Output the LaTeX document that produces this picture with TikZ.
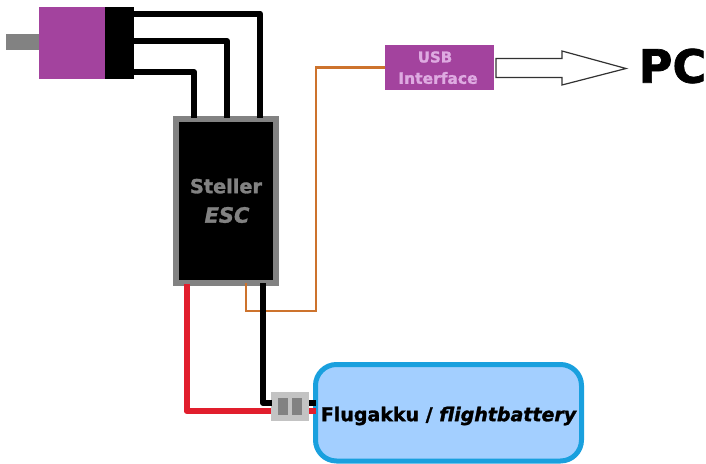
\documentclass[tikz,border=0pt]{standalone}
\usepackage{fontspec}
\setmainfont{DejaVu Sans}[BoldFeatures={FakeBold=1.5},BoldItalicFeatures={FakeBold=1.5}]
\begin{document}
\begin{tikzpicture}[x=1pt,y=-1pt,
  boxnode/.style={anchor=north west,inner sep=0pt,outer sep=0pt},
  wire/.style={line width=6pt,line join=round,black},
  redwire/.style={line width=6pt,line join=round,color={rgb,255:red,225;green,30;blue,45}},
  orangewire/.style={line width=2.5pt,line join=miter,color={rgb,255:red,205;green,115;blue,45}},
  lbl/.style={inner sep=0pt,font=\bfseries}]
\definecolor{purp}{RGB}{163,67,158}
\definecolor{grayc}{RGB}{130,130,130}
\definecolor{lightp}{RGB}{222,170,225}
\definecolor{batf}{RGB}{163,207,255}
\definecolor{batb}{RGB}{25,160,222}
\definecolor{congray}{RGB}{195,195,195}
\useasboundingbox (0,0) rectangle (706,463);
% wires go first so that the boxes sit over their ends
\node[boxnode,fill=grayc,minimum width=36pt,minimum height=16pt] (shaft) at (6,34) {};
\node[boxnode,fill=purp,minimum width=67pt,minimum height=72pt] (motor) at (39,7) {};
\node[boxnode,fill=black,minimum width=29pt,minimum height=72pt] (cap) at (105,7) {};
\node[boxnode,fill=black,draw=grayc,line width=6pt,minimum width=100pt,minimum height=164pt,outer sep=0pt] (esc) at (176,119) {};
\node[boxnode,fill=purp,minimum width=109pt,minimum height=45pt] (usb) at (385,45) {};
\node[boxnode,fill=batf,draw=batb,line width=5pt,rounded corners=21pt,minimum width=266pt,minimum height=96.5pt] (bat) at (315.5,364.5) {};
\node[boxnode,fill=congray,minimum width=38pt,minimum height=29pt] (con) at (271,392) {};
\coordinate (w1a) at (134,13.5); \coordinate (w1b) at (260,118);
\coordinate (w2a) at (134,41);   \coordinate (w2b) at (227,118);
\coordinate (w3a) at (134,72);   \coordinate (w3b) at (194,118);
\draw[wire,line width=6pt] (w1a) -| (w1b);
\draw[wire] (w2a) -| (w2b);
\draw[wire] (w3a) -| (w3b);
\coordinate (or0) at (246,283); \coordinate (or1) at (316,311);
\draw[orangewire] (or0) |- (or1) |- (usb.west);
\coordinate (rd0) at (186.5,284); \coordinate (rd1) at (271,411);
\draw[redwire] (rd0) |- (rd1);
\coordinate (bk0) at (263,283); \coordinate (bk1) at (272,403);
\draw[wire] (bk0) |- (bk1);
\coordinate (s1a) at (309,403); \coordinate (s1b) at (316,403);
\coordinate (s2a) at (309,411); \coordinate (s2b) at (316,411);
\draw[wire] (s1a) -- (s1b);
\draw[redwire] (s2a) -- (s2b);
\node[boxnode,fill=grayc,minimum width=10pt,minimum height=17pt] (pin1) at (278,398) {};
\node[boxnode,fill=grayc,minimum width=10pt,minimum height=17pt] (pin2) at (292,398) {};
\node[lbl,text=grayc,font=\bfseries\fontsize{19.3}{21}\selectfont] (t1) at (226,186) {Steller};
\node[lbl,text=grayc,font=\bfseries\itshape\fontsize{21}{23}\selectfont] (t2) at (227,215) {ESC};
\node[lbl,text=lightp,font=\bfseries\fontsize{15}{17}\selectfont] (t3) at (435,57) {USB};
\node[lbl,text=lightp,font=\bfseries\fontsize{15.5}{17}\selectfont] (t4) at (438,78) {Interface};
\node[lbl,text=black,font=\bfseries\fontsize{46}{48}\selectfont] (pc) at (672.5,66) {PC};
\node[lbl,text=black,font=\bfseries\fontsize{19}{21}\selectfont] (bt) at (448.5,416) {Flugakku / \itshape flightbattery};
\draw[line width=1.2pt,color={rgb,255:red,50;green,50;blue,50},fill=white,line join=miter]
  (496,58.5) -- (562,58.5) -- (562,51) -- (626,68.5) -- (562,85) -- (562,77.5) -- (496,77.5) -- cycle;
\end{tikzpicture}
\end{document}
